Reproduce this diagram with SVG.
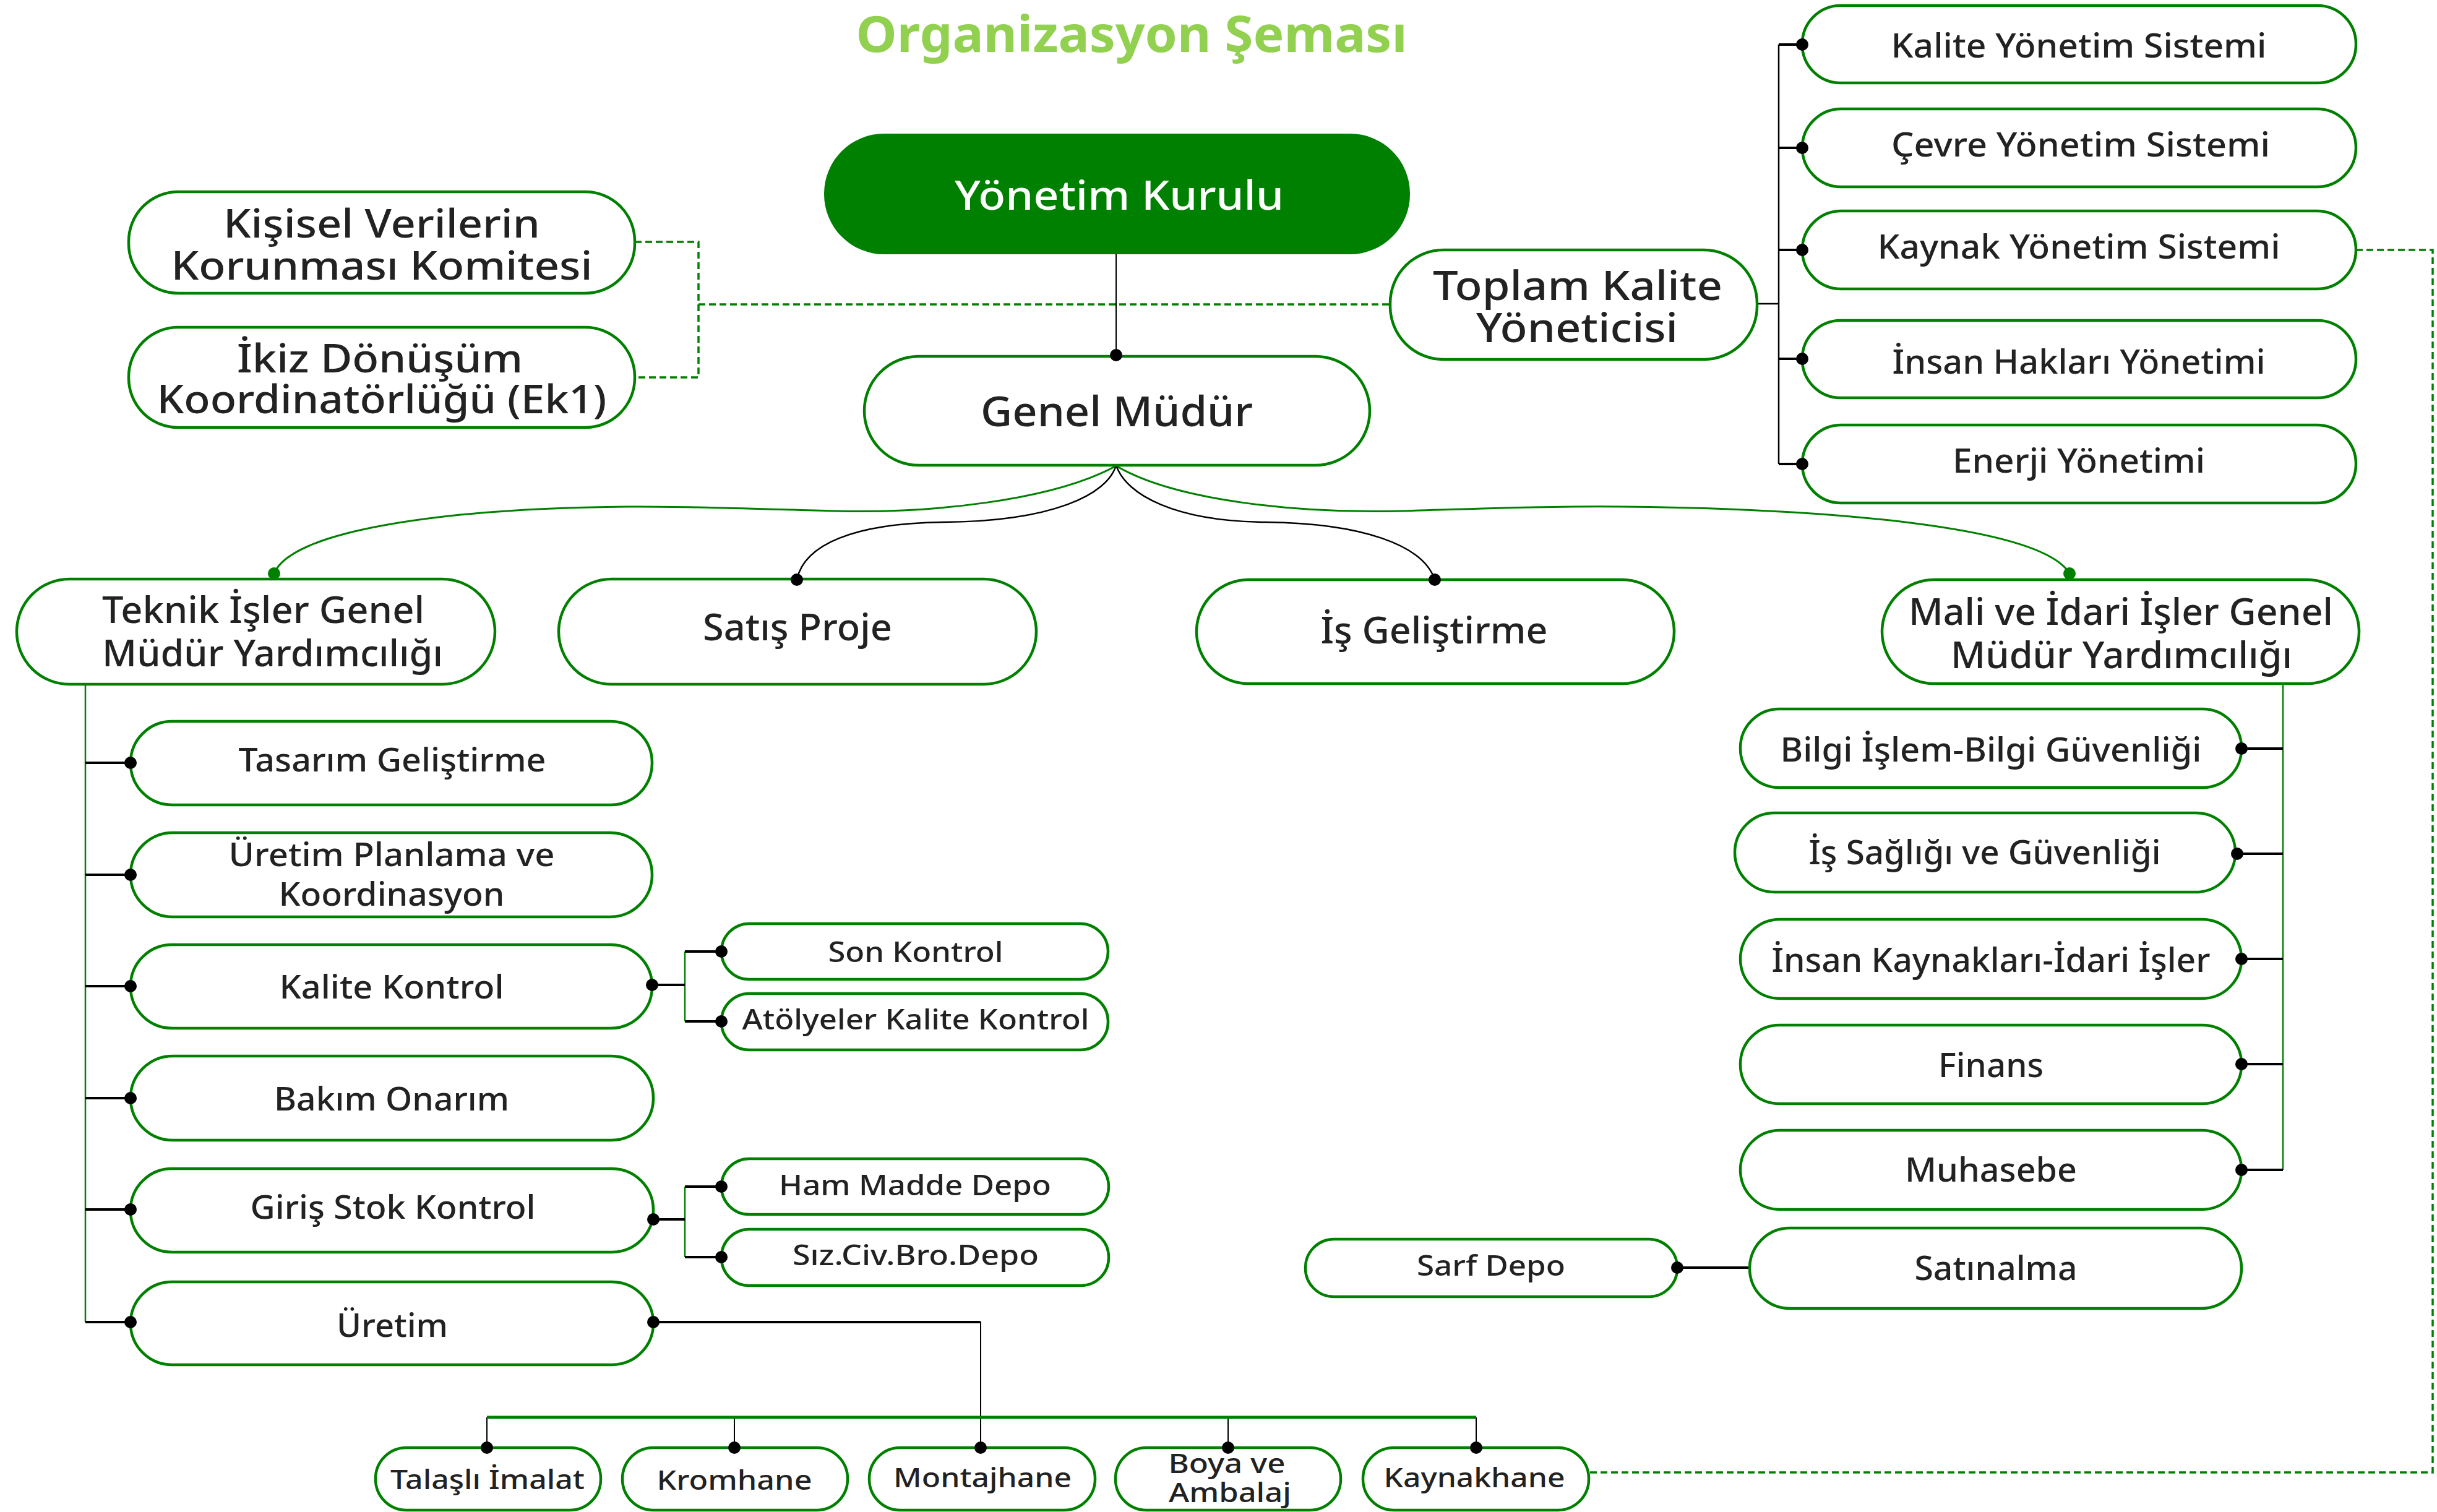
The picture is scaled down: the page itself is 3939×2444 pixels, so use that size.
<svg xmlns="http://www.w3.org/2000/svg" width="3939" height="2444" viewBox="0 0 3939 2444">
<style>
.b{fill:#fff;stroke:#008000;stroke-width:4.5}
.t{font-family:"Noto Sans","Open Sans","Liberation Sans",sans-serif;font-weight:500;fill:#222;text-anchor:middle}
.f66{font-size:66px}.f60{font-size:60px}.f54{font-size:54px}.f52{font-size:52px}.f46{font-size:46px}.f44{font-size:44px}
.k{stroke:#000;fill:none}
.g{stroke:#008000;fill:none}
.d{stroke:#008000;fill:none;stroke-width:3.5;stroke-dasharray:11 6}
.dk{fill:#000}
.dg{fill:#008000}
</style>
<rect width="3939" height="2444" fill="#fff"/>
<text x="1829" y="84" font-family="'Noto Sans','Open Sans',sans-serif" font-weight="700" font-size="81" fill="#92D050" text-anchor="middle" textLength="891" lengthAdjust="spacingAndGlyphs">Organizasyon Şeması</text>

<g id="connectors">
  <path class="d" d="M1026,391 H1129 V610 H1026 M1129,492 H2247"/>
  <path class="d" d="M3808,404 H3932 V2380 H2569"/>
  <path class="k" stroke-width="2" d="M1804,411 V574"/>
  <path class="g" stroke-width="3" d="M1804,753 C1700,810 1500,830 1351,826 C1230,823 1120,818 1014,819 C700,822 470,860 443,927"/>
  <path class="g" stroke-width="3" d="M1804,753 C1900,810 2100,830 2264,826 C2400,822 2500,818 2622,819 C2950,822 3300,850 3345,927"/>
  <path class="k" stroke-width="2.5" d="M1804,752 C1790,800 1700,843 1524,844 C1380,846 1300,880 1288,937"/>
  <path class="k" stroke-width="2.5" d="M1804,752 C1820,800 1900,843 2047,844 C2200,846 2300,880 2319,937"/>
  <path class="k" stroke-width="2.5" d="M2840,491 H2875 M2875,72 V750"/>
  <path class="k" stroke-width="4" d="M2875,72 H2913 M2875,239 H2913 M2875,404 H2913 M2875,580 H2913 M2875,750 H2913"/>
  <path class="g" stroke-width="2.5" d="M138,1106 V2137"/>
  <path class="k" stroke-width="4" d="M138,1233 H211 M138,1414 H211 M138,1594 H211 M138,1775 H211 M138,1955 H211 M138,2137 H211"/>
  <path class="g" stroke-width="2.5" d="M1107,1538 V1651 M1107,1918 V2032"/>
  <path class="k" stroke-width="4" d="M1054,1592 H1107 M1107,1538 H1166 M1107,1651 H1166 M1056,1971 H1107 M1107,1918 H1166 M1107,2032 H1166"/>
  <path class="k" stroke-width="4" d="M1056,2137 H1585"/>
  <path class="k" stroke-width="2" d="M1585,2137 V2340 M787,2291 V2340 M1187,2291 V2340 M1985,2291 V2340 M2386,2291 V2340"/>
  <path class="g" stroke-width="5" d="M787,2291 H2386"/>
  <path class="g" stroke-width="2.5" d="M3690,1105 V1891"/>
  <path class="k" stroke-width="4" d="M3623,1210 H3690 M3616,1380 H3690 M3623,1550 H3690 M3623,1720 H3690 M3623,1891 H3690"/>
  <path class="k" stroke-width="4" d="M2711,2049 H2828"/>
</g>

<g id="n-yk"><rect x="1332" y="216" width="947" height="195" rx="97" fill="#008000"/><text class="t f66" x="1809" y="339" style="fill:#fff" textLength="532" lengthAdjust="spacingAndGlyphs">Yönetim Kurulu</text></g>
<g id="n-gm"><rect class="b" x="1397" y="576" width="817" height="176" rx="88"/><text class="t" font-size="68" x="1805" y="689" textLength="440" lengthAdjust="spacingAndGlyphs">Genel Müdür</text></g>
<g id="n-kvkk"><rect class="b" x="208" y="310" width="818" height="164" rx="80"/><text class="t" font-size="64" x="617" y="384" textLength="512" lengthAdjust="spacingAndGlyphs">Kişisel Verilerin</text><text class="t" font-size="64" x="617" y="452" textLength="681" lengthAdjust="spacingAndGlyphs">Korunması Komitesi</text></g>
<g id="n-ikiz"><rect class="b" x="208" y="529" width="818" height="162" rx="80"/><text class="t" font-size="64" x="614" y="602" textLength="462" lengthAdjust="spacingAndGlyphs">İkiz Dönüşüm</text><text class="t" font-size="64" x="617" y="668" textLength="727" lengthAdjust="spacingAndGlyphs">Koordinatörlüğü (Ek1)</text></g>
<g id="n-tky"><rect class="b" x="2247" y="404" width="593" height="177" rx="86"/><text class="t f66" x="2550" y="485" textLength="468" lengthAdjust="spacingAndGlyphs">Toplam Kalite</text><text class="t f66" x="2549" y="553" textLength="326" lengthAdjust="spacingAndGlyphs">Yöneticisi</text></g>

<g id="n-kys"><rect class="b" x="2913" y="9" width="895" height="125" rx="62"/><text class="t f54" x="3360" y="93" textLength="607" lengthAdjust="spacingAndGlyphs">Kalite Yönetim Sistemi</text></g>
<g id="n-cys"><rect class="b" x="2913" y="176" width="895" height="126" rx="63"/><text class="t f54" x="3363" y="253" textLength="612" lengthAdjust="spacingAndGlyphs">Çevre Yönetim Sistemi</text></g>
<g id="n-kayys"><rect class="b" x="2913" y="341" width="895" height="126" rx="63"/><text class="t f54" x="3360" y="418" textLength="651" lengthAdjust="spacingAndGlyphs">Kaynak Yönetim Sistemi</text></g>
<g id="n-ihy"><rect class="b" x="2913" y="518" width="895" height="125" rx="62"/><text class="t f54" x="3360" y="604" textLength="603" lengthAdjust="spacingAndGlyphs">İnsan Hakları Yönetimi</text></g>
<g id="n-ey"><rect class="b" x="2913" y="687" width="895" height="126" rx="63"/><text class="t f54" x="3360" y="764" textLength="408" lengthAdjust="spacingAndGlyphs">Enerji Yönetimi</text></g>

<g id="n-teknik"><rect class="b" x="27" y="936" width="773" height="170" rx="85"/><text class="t f60" x="165" y="1007" style="text-anchor:start" textLength="521" lengthAdjust="spacingAndGlyphs">Teknik İşler Genel</text><text class="t f60" x="165" y="1077" style="text-anchor:start" textLength="551" lengthAdjust="spacingAndGlyphs">Müdür Yardımcılığı</text></g>
<g id="n-satis"><rect class="b" x="903" y="936" width="772" height="170" rx="85"/><text class="t f60" x="1289" y="1035" textLength="306" lengthAdjust="spacingAndGlyphs">Satış Proje</text></g>
<g id="n-isgel"><rect class="b" x="1934" y="937" width="772" height="168" rx="84"/><text class="t f60" x="2318" y="1040" textLength="367" lengthAdjust="spacingAndGlyphs">İş Geliştirme</text></g>
<g id="n-mali"><rect class="b" x="3042" y="937" width="771" height="168" rx="84"/><text class="t f60" x="3428" y="1010" textLength="686" lengthAdjust="spacingAndGlyphs">Mali ve İdari İşler Genel</text><text class="t f60" x="3429" y="1080" textLength="552" lengthAdjust="spacingAndGlyphs">Müdür Yardımcılığı</text></g>

<g id="n-tasarim"><rect class="b" x="211" y="1166" width="843" height="135" rx="67"/><text class="t f52" x="634" y="1247" textLength="497" lengthAdjust="spacingAndGlyphs">Tasarım Geliştirme</text></g>
<g id="n-upk"><rect class="b" x="211" y="1346" width="843" height="136" rx="68"/><text class="t f52" x="633" y="1400" textLength="527" lengthAdjust="spacingAndGlyphs">Üretim Planlama ve</text><text class="t f52" x="633" y="1464" textLength="365" lengthAdjust="spacingAndGlyphs">Koordinasyon</text></g>
<g id="n-kk"><rect class="b" x="211" y="1527" width="843" height="135" rx="67"/><text class="t f52" x="633" y="1614" textLength="363" lengthAdjust="spacingAndGlyphs">Kalite Kontrol</text></g>
<g id="n-bakim"><rect class="b" x="211" y="1707" width="845" height="136" rx="68"/><text class="t f52" x="633" y="1795" textLength="380" lengthAdjust="spacingAndGlyphs">Bakım Onarım</text></g>
<g id="n-giris"><rect class="b" x="211" y="1889" width="845" height="135" rx="67"/><text class="t f52" x="635" y="1970" textLength="461" lengthAdjust="spacingAndGlyphs">Giriş Stok Kontrol</text></g>
<g id="n-uretim"><rect class="b" x="211" y="2072" width="845" height="134" rx="67"/><text class="t f52" x="634" y="2161" textLength="180" lengthAdjust="spacingAndGlyphs">Üretim</text></g>

<g id="n-son"><rect class="b" x="1166" y="1493" width="625" height="90" rx="45"/><text class="t f46" x="1480" y="1555" textLength="283" lengthAdjust="spacingAndGlyphs">Son Kontrol</text></g>
<g id="n-atolye"><rect class="b" x="1166" y="1606" width="625" height="91" rx="45"/><text class="t f46" x="1480" y="1664" textLength="561" lengthAdjust="spacingAndGlyphs">Atölyeler Kalite Kontrol</text></g>
<g id="n-ham"><rect class="b" x="1166" y="1873" width="626" height="90" rx="45"/><text class="t f46" x="1479" y="1932" textLength="440" lengthAdjust="spacingAndGlyphs">Ham Madde Depo</text></g>
<g id="n-siz"><rect class="b" x="1166" y="1987" width="626" height="91" rx="45"/><text class="t f46" x="1480" y="2045" textLength="398" lengthAdjust="spacingAndGlyphs">Sız.Civ.Bro.Depo</text></g>

<g id="n-bilgi"><rect class="b" x="2813" y="1146" width="810" height="127" rx="63"/><text class="t f54" x="3218" y="1231" textLength="681" lengthAdjust="spacingAndGlyphs">Bilgi İşlem-Bilgi Güvenliği</text></g>
<g id="n-isg"><rect class="b" x="2804" y="1314" width="809" height="128" rx="64"/><text class="t f54" x="3208" y="1397" textLength="569" lengthAdjust="spacingAndGlyphs">İş Sağlığı ve Güvenliği</text></g>
<g id="n-ik"><rect class="b" x="2813" y="1486" width="810" height="128" rx="64"/><text class="t f54" x="3218" y="1571" textLength="709" lengthAdjust="spacingAndGlyphs">İnsan Kaynakları-İdari İşler</text></g>
<g id="n-finans"><rect class="b" x="2813" y="1657" width="810" height="127" rx="63"/><text class="t f54" x="3218" y="1741" textLength="170" lengthAdjust="spacingAndGlyphs">Finans</text></g>
<g id="n-muhasebe"><rect class="b" x="2813" y="1827" width="810" height="128" rx="64"/><text class="t f54" x="3218" y="1910" textLength="278" lengthAdjust="spacingAndGlyphs">Muhasebe</text></g>
<g id="n-satinalma"><rect class="b" x="2828" y="1985" width="795" height="130" rx="65"/><text class="t f54" x="3226" y="2069" textLength="263" lengthAdjust="spacingAndGlyphs">Satınalma</text></g>
<g id="n-sarf"><rect class="b" x="2110" y="2003" width="601" height="93" rx="46"/><text class="t f46" x="2410" y="2062" textLength="240" lengthAdjust="spacingAndGlyphs">Sarf Depo</text></g>

<g id="n-talasli"><rect class="b" x="607" y="2340" width="364" height="101" rx="50"/><text class="t f44" x="788" y="2407" textLength="314" lengthAdjust="spacingAndGlyphs">Talaşlı İmalat</text></g>
<g id="n-krom"><rect class="b" x="1006" y="2340" width="364" height="101" rx="50"/><text class="t f44" x="1187" y="2408" textLength="251" lengthAdjust="spacingAndGlyphs">Kromhane</text></g>
<g id="n-montaj"><rect class="b" x="1405" y="2340" width="365" height="101" rx="50"/><text class="t f44" x="1588" y="2404" textLength="288" lengthAdjust="spacingAndGlyphs">Montajhane</text></g>
<g id="n-boya"><rect class="b" x="1803" y="2340" width="364" height="101" rx="50"/><text class="t f44" x="1983" y="2381" textLength="189" lengthAdjust="spacingAndGlyphs">Boya ve</text><text class="t f44" x="1988" y="2428" textLength="198" lengthAdjust="spacingAndGlyphs">Ambalaj</text></g>
<g id="n-kaynakhane"><rect class="b" x="2203" y="2340" width="365" height="101" rx="50"/><text class="t f44" x="2383" y="2404" textLength="293" lengthAdjust="spacingAndGlyphs">Kaynakhane</text></g>

<g id="dots">
  <circle class="dk" cx="1804" cy="574" r="10"/>
  <circle class="dg" cx="443" cy="927" r="10"/>
  <circle class="dg" cx="3345" cy="927" r="10"/>
  <circle class="dk" cx="1288" cy="937" r="10"/>
  <circle class="dk" cx="2319" cy="937" r="10"/>
  <circle class="dk" cx="2913" cy="72" r="10"/>
  <circle class="dk" cx="2913" cy="239" r="10"/>
  <circle class="dk" cx="2913" cy="404" r="10"/>
  <circle class="dk" cx="2913" cy="580" r="10"/>
  <circle class="dk" cx="2913" cy="750" r="10"/>
  <circle class="dk" cx="211" cy="1233" r="10"/>
  <circle class="dk" cx="211" cy="1414" r="10"/>
  <circle class="dk" cx="211" cy="1594" r="10"/>
  <circle class="dk" cx="211" cy="1775" r="10"/>
  <circle class="dk" cx="211" cy="1955" r="10"/>
  <circle class="dk" cx="211" cy="2137" r="10"/>
  <circle class="dk" cx="1054" cy="1592" r="10"/>
  <circle class="dk" cx="1166" cy="1538" r="10"/>
  <circle class="dk" cx="1166" cy="1651" r="10"/>
  <circle class="dk" cx="1056" cy="1971" r="10"/>
  <circle class="dk" cx="1166" cy="1918" r="10"/>
  <circle class="dk" cx="1166" cy="2032" r="10"/>
  <circle class="dk" cx="1056" cy="2137" r="10"/>
  <circle class="dk" cx="787" cy="2340" r="10"/>
  <circle class="dk" cx="1187" cy="2340" r="10"/>
  <circle class="dk" cx="1585" cy="2340" r="10"/>
  <circle class="dk" cx="1985" cy="2340" r="10"/>
  <circle class="dk" cx="2386" cy="2340" r="10"/>
  <circle class="dk" cx="3623" cy="1210" r="10"/>
  <circle class="dk" cx="3616" cy="1380" r="10"/>
  <circle class="dk" cx="3623" cy="1550" r="10"/>
  <circle class="dk" cx="3623" cy="1720" r="10"/>
  <circle class="dk" cx="3623" cy="1891" r="10"/>
  <circle class="dk" cx="2711" cy="2049" r="10"/>
</g>
</svg>
